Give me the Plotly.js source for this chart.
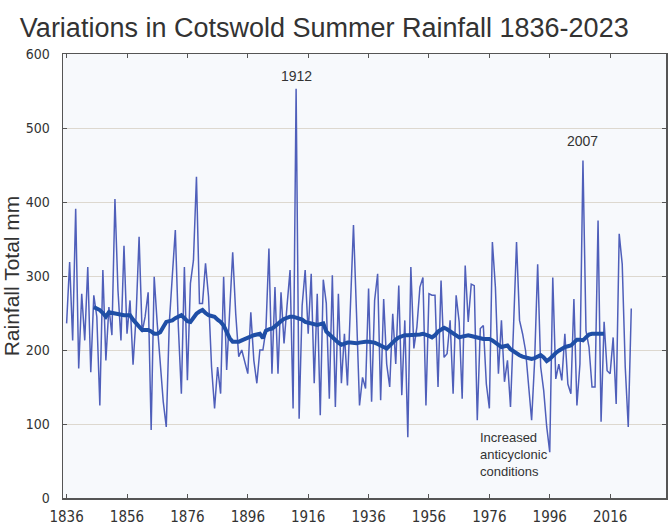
<!DOCTYPE html>
<html>
<head>
<meta charset="utf-8">
<script src="https://cdn.plot.ly/plotly-3.0.1.min.js"></script>
<style>html,body{margin:0;padding:0;background:#fff;}#chart{width:670px;height:528px;}</style>
</head>
<body>
<div id="chart"></div>
<script>
// Summer rainfall totals (mm), one value per year starting at firstYear
const firstYear = 1836;
const rainfall = [
  236, 319, 213, 391, 175, 276, 213, 312, 170, 274,
  245, 125, 308, 186, 258, 220, 404, 281, 213, 341,
  222, 267, 180, 245, 353, 224, 245, 278, 92, 299,
  236, 180, 130, 96, 236, 300, 362, 231, 141, 312,
  159, 290, 321, 434, 263, 263, 317, 272, 177, 121,
  177, 141, 299, 173, 245, 332, 249, 191, 200, 182,
  168, 251, 186, 155, 200, 200, 227, 337, 168, 285,
  168, 278, 209, 260, 308, 121, 553, 107, 260, 308,
  222, 303, 155, 276, 112, 295, 263, 134, 301, 123,
  276, 155, 222, 152, 267, 369, 250, 125, 163, 148,
  283, 130, 267, 303, 132, 269, 181, 150, 249, 181,
  287, 139, 240, 82, 312, 202, 231, 285, 298, 125,
  276, 274, 274, 150, 294, 190, 195, 240, 141, 274,
  238, 134, 314, 238, 289, 287, 105, 229, 233, 154,
  121, 346, 285, 168, 240, 157, 186, 123, 230, 346,
  240, 222, 199, 150, 105, 186, 316, 177, 145, 96,
  62, 298, 161, 181, 159, 222, 154, 141, 269, 125,
  181, 456, 226, 204, 150, 150, 375, 103, 238, 172,
  168, 217, 127, 357, 316, 177, 96, 256
];

// Smoothed (running mean) curve, starting at maFirstYear
const maFirstYear = 1845;
const movingAverage = [
  258, 256, 254, 250, 245, 251, 250, 249, 248, 247,
  247, 247, 247, 241, 236, 231, 227, 227, 227, 225,
  222, 222, 224, 231, 238, 239, 240, 243, 245, 247,
  243, 239, 238, 244, 249, 252, 254, 250, 247, 246,
  245, 241, 238, 233, 224, 216, 211, 211, 211, 213,
  215, 217, 218, 220, 221, 222, 216, 226, 228, 229,
  232, 236, 239, 242, 244, 245, 245, 244, 243, 241,
  238, 237, 236, 235, 234, 235, 236, 225, 221, 218,
  214, 210, 207, 209, 210, 210, 209, 209, 210, 211,
  211, 211, 211, 210, 208, 206, 203, 202, 206, 211,
  214, 217, 219, 220, 220, 220, 220, 221, 221, 222,
  221, 219, 217, 220, 225, 228, 230, 228, 225, 222,
  220, 217, 218, 219, 220, 219, 218, 217, 215, 215,
  215, 215, 213, 210, 206, 204, 205, 206, 201, 198,
  195, 193, 191, 190, 189, 188, 189, 191, 193, 190,
  185, 188, 193, 196, 199, 202, 204, 205, 206, 210,
  214, 214, 213, 217, 221, 222, 222, 222, 222, 222
];

const xTickVals = [1836, 1856, 1876, 1896, 1916, 1936, 1956, 1976, 1996, 2016];
const yTickVals = [0, 100, 200, 300, 400, 500, 600];

const years = rainfall.map((_, i) => firstYear + i);
const maYears = movingAverage.map((_, i) => maFirstYear + i);

const narrow = "'Liberation Sans Narrow', 'DejaVu Sans Condensed', 'Arial Narrow', sans-serif";
const sans = "'Liberation Sans', Arial, sans-serif";

const traces = [
  {
    x: years, y: rainfall, type: 'scatter', mode: 'lines',
    line: {color: '#4f5fba', width: 1.5},
    hoverinfo: 'x+y', showlegend: false
  },
  {
    x: maYears, y: movingAverage, type: 'scatter', mode: 'lines',
    line: {color: '#1f4ea6', width: 4},
    hoverinfo: 'x+y', showlegend: false
  }
];

const layout = {
  width: 670, height: 528,
  margin: {l: 63, r: 4, t: 54, b: 30},
  paper_bgcolor: '#ffffff',
  plot_bgcolor: '#f7f9fc',
  title: {
    text: 'Variations in Cotswold Summer Rainfall 1836-2023',
    font: {family: sans, size: 27, color: '#333333'},
    xref: 'container', x: 0.484, xanchor: 'center',
    yref: 'container', y: 0.947, yanchor: 'middle'
  },
  xaxis: {
    range: [1834.8, 2034.5],
    tickmode: 'array', tickvals: xTickVals,
    ticks: 'inside', ticklen: 4, tickcolor: '#555',
    ticklabelstandoff: 4,
    showgrid: false, zeroline: false,
    showline: true, linecolor: '#555', linewidth: 1.5, mirror: 'ticks',
    tickfont: {family: narrow, size: 15, color: '#333'}
  },
  yaxis: {
    range: [0, 600],
    tickmode: 'array', tickvals: yTickVals,
    ticks: 'inside', ticklen: 4, tickcolor: '#555',
    ticklabelstandoff: 9,
    showgrid: true, gridcolor: '#ddd8cf', gridwidth: 1,
    zeroline: false,
    showline: true, linecolor: '#555', linewidth: 1.5, mirror: 'ticks',
    tickfont: {family: narrow, size: 14, color: '#333'},
    title: {text: 'Rainfall Total mm', font: {family: sans, size: 21, color: '#333'}, standoff: 2}
  },
  annotations: [
    {x: 1912, y: 570, xref: 'x', yref: 'y', text: '1912', showarrow: false,
     font: {family: sans, size: 14, color: '#333'}, xanchor: 'center', yanchor: 'middle'},
    {x: 2007, y: 482, xref: 'x', yref: 'y', text: '2007', showarrow: false,
     font: {family: sans, size: 14, color: '#333'}, xanchor: 'center', yanchor: 'middle'},
    {x: 1972.3, y: 59, xref: 'x', yref: 'y', text: 'Increased<br>anticyclonic<br>conditions', showarrow: false,
     align: 'left', font: {family: sans, size: 13, color: '#333'}, xanchor: 'left', yanchor: 'middle'}
  ]
};

Plotly.newPlot('chart', traces, layout, {displayModeBar: false, staticPlot: true});
</script>
</body>
</html>
